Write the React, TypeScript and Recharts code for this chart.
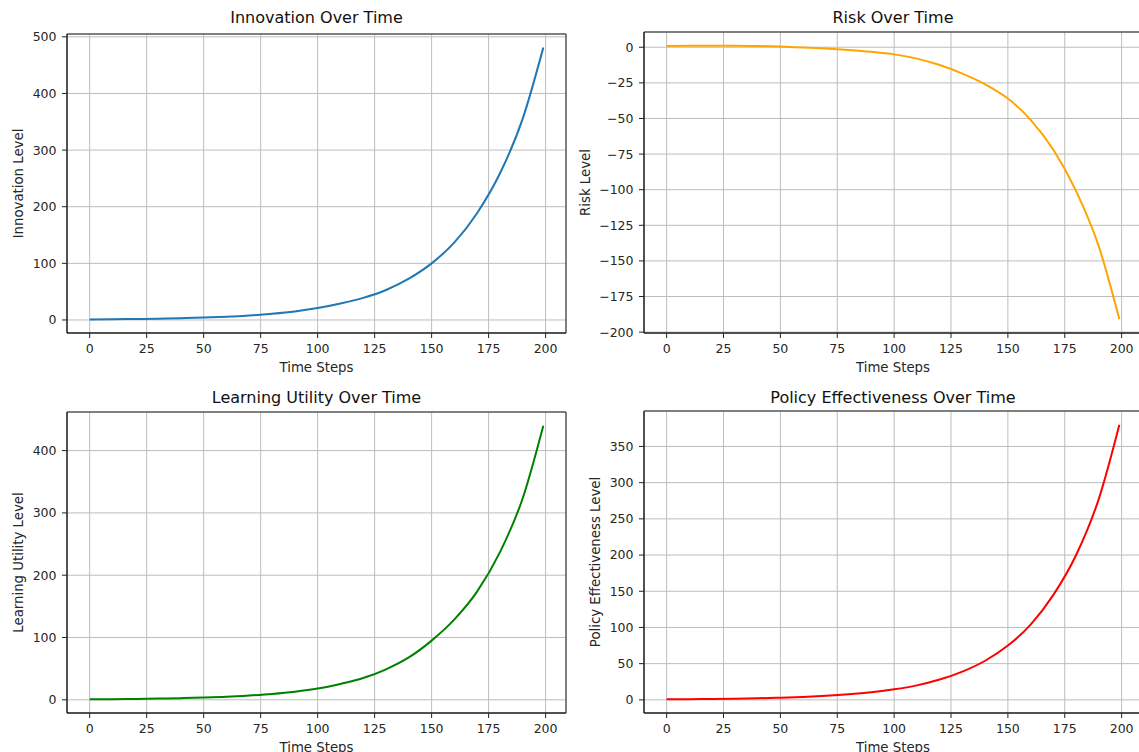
import React from 'react';
import {
  LineChart,
  Line,
  XAxis,
  YAxis,
  CartesianGrid,
  ReferenceArea,
} from 'recharts';

const steps = [0, 10, 20, 30, 40, 50, 60, 70, 80, 90, 100, 110, 120, 130, 140, 150, 160, 170, 180, 190, 199];

const innovation = [1, 1.3, 1.7, 2.3, 3.1, 4.2, 5.8, 8, 11, 15, 21, 29, 39, 53, 73, 100, 137, 189, 259, 356, 481];
const risk = [0.8, 1.0, 1.1, 1.1, 0.9, 0.5, -0.2, -0.9, -1.9, -3.2, -5, -8, -12.5, -18.5, -26, -36, -51, -72, -101, -140, -191];
const learning = [0.8, 1.1, 1.5, 2, 2.7, 3.7, 5, 7, 9.5, 13, 18, 25.5, 35, 49, 68, 95, 129, 174, 237, 324, 440];
const policy = [0.8, 1, 1.2, 1.6, 2.2, 3, 4, 5.5, 7.6, 10.5, 14.5, 20, 28, 39, 54, 75, 104, 145, 200, 278, 380];

const xTicks = [0, 25, 50, 75, 100, 125, 150, 175, 200];
const innovationTicks = [0, 100, 200, 300, 400, 500];
const riskTicks = [-200, -175, -150, -125, -100, -75, -50, -25, 0];
const learningTicks = [0, 100, 200, 300, 400];
const policyTicks = [0, 50, 100, 150, 200, 250, 300, 350];

const FONT = '"DejaVu Sans", sans-serif';
const TEXT = '#262626';

// matplotlib-style 5% margins around the data
const pad = (vals: number[]): [number, number] => {
  const lo = Math.min(...vals);
  const hi = Math.max(...vals);
  const m = (hi - lo) * 0.05;
  return [lo - m, hi + m];
};
const xDomain = pad([0, 199]);

const fmt = (v: number) => (v < 0 ? `\u2212${Math.abs(v)}` : `${v}`);

interface PanelProps {
  title: string;
  yLabel: string;
  values: number[];
  yTicks: number[];
  color: string;
  left: number;
  top: number;
  width: number;
  height: number;
  marginTop: number;
  yAxisWidth: number;
  yLabelOffset: number;
  titleY: number;
}

const Panel: React.FC<PanelProps> = ({
  title, yLabel, values, yTicks, color, left, top, width, height,
  marginTop, yAxisWidth, yLabelOffset, titleY,
}) => {
  const data = steps.map((s, i) => ({ step: s, value: values[i] }));
  const yDomain = pad(values);
  const plotLeft = yAxisWidth;
  const plotRight = width - 4;

  return (
    <div style={{ position: 'absolute', left, top, width, height }}>
      <div
        style={{
          position: 'absolute',
          left: plotLeft,
          width: plotRight - plotLeft,
          top: titleY - 10,
          height: 20,
          lineHeight: '20px',
          textAlign: 'center',
          fontFamily: FONT,
          fontSize: 16,
          color: '#111',
          whiteSpace: 'nowrap',
        }}
      >
        {title}
      </div>
      <LineChart
        width={width}
        height={height}
        data={data}
        margin={{ top: marginTop, right: 4, bottom: 0, left: 0 }}
        style={{ position: 'absolute', left: 0, top: 0 }}
      >
        <CartesianGrid stroke="#bdbdbd" strokeWidth={1} />
        <XAxis
          dataKey="step"
          type="number"
          domain={xDomain}
          ticks={xTicks}
          allowDataOverflow
          height={43}
          tickSize={5}
          tickMargin={6}
          stroke="#222"
          tick={{ fill: TEXT, fontSize: 12.5, fontFamily: FONT }}
          label={{ value: 'Time Steps', position: 'insideBottom', offset: 4, fill: TEXT, fontSize: 13.3, fontFamily: FONT }}
        />
        <YAxis
          type="number"
          domain={yDomain}
          ticks={yTicks}
          allowDataOverflow
          width={yAxisWidth}
          tickSize={5}
          tickMargin={5.5}
          stroke="#222"
          tickFormatter={fmt}
          tick={{ fill: TEXT, fontSize: 12.5, fontFamily: FONT }}
          label={{
            value: yLabel,
            angle: -90,
            position: 'insideLeft',
            offset: yLabelOffset,
            fill: TEXT,
            fontSize: 13.3,
            fontFamily: FONT,
            style: { textAnchor: 'middle' },
          }}
        />
        <Line
          type="monotone"
          dataKey="value"
          stroke={color}
          strokeWidth={2}
          dot={false}
          activeDot={false}
          isAnimationActive={false}
        />
        <ReferenceArea
          x1={xDomain[0]}
          x2={xDomain[1]}
          y1={yDomain[0]}
          y2={yDomain[1]}
          fill="none"
          fillOpacity={0}
          stroke="#222"
          strokeWidth={1}
          ifOverflow="visible"
        />
      </LineChart>
    </div>
  );
};

export default function App() {
  return (
    <div
      style={{
        position: 'absolute',
        left: 0,
        top: 0,
        width: 1139,
        height: 752,
        overflow: 'hidden',
        background: '#fff',
      }}
    >
      <Panel
        title="Innovation Over Time"
        yLabel="Innovation Level"
        values={innovation}
        yTicks={innovationTicks}
        color="#1f77b4"
        left={0}
        top={0}
        width={570}
        height={376}
        marginTop={34}
        yAxisWidth={67}
        yLabelOffset={18}
        titleY={18}
      />
      <Panel
        title="Risk Over Time"
        yLabel="Risk Level"
        values={risk}
        yTicks={riskTicks}
        color="orange"
        left={570}
        top={0}
        width={576}
        height={376}
        marginTop={32}
        yAxisWidth={74}
        yLabelOffset={15}
        titleY={18}
      />
      <Panel
        title="Learning Utility Over Time"
        yLabel="Learning Utility Level"
        values={learning}
        yTicks={learningTicks}
        color="green"
        left={0}
        top={376}
        width={570}
        height={380}
        marginTop={36}
        yAxisWidth={67}
        yLabelOffset={18}
        titleY={22}
      />
      <Panel
        title="Policy Effectiveness Over Time"
        yLabel="Policy Effectiveness Level"
        values={policy}
        yTicks={policyTicks}
        color="red"
        left={570}
        top={376}
        width={576}
        height={380}
        marginTop={35}
        yAxisWidth={74}
        yLabelOffset={25}
        titleY={22}
      />
    </div>
  );
}
